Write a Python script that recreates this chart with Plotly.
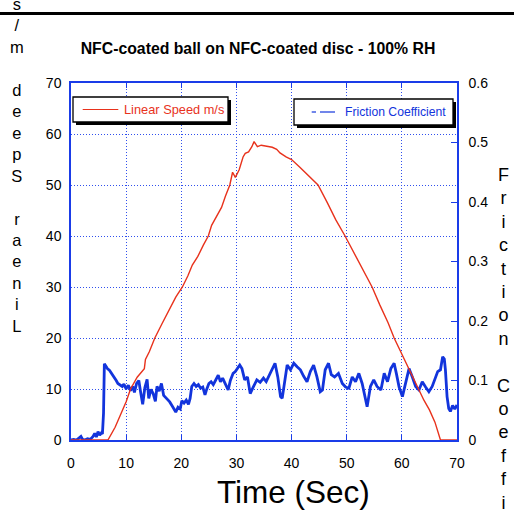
import plotly.graph_objects as go

# ---------------- data ----------------
speed_time = [0, 6.7, 8, 9, 10, 10.8, 12, 13.3, 13.5, 14.2, 15.2, 16.5, 17.8, 19, 20.2, 21.2, 22, 23, 24,
              24.9, 25.5, 26.5, 27.3, 28, 28.8, 29.3, 29.8, 30.5, 31.2, 31.6, 32.2, 32.8, 33.2, 33.8, 34.5,
              35.5, 36.5, 37.3, 37.9, 39, 40, 41.5, 43, 44.8, 46.5, 48, 49.7, 51, 52.5, 54.6, 56, 57.5,
              58.6, 60, 61.3, 63, 64, 65, 66, 67, 70]
speed_ms = [0, 0, 2.5, 5, 7.5, 10, 12.3, 14.0, 15.8, 17.3, 20, 22.8, 25.6, 28.0, 30, 32.2, 34.3, 36.0, 38.2,
            40, 42.1, 44.0, 45.6, 47.8, 50, 52.5, 51.5, 53.0, 55.5, 56.2, 56.5, 57.5, 58.5, 57.5, 57.8,
            57.6, 57.4, 57.0, 56.3, 55.5, 55, 53.5, 52, 50, 46.5, 43.2, 40, 37.3, 34.2, 30, 26.5, 23.0,
            20, 16.8, 13.7, 10, 7.8, 5.9, 3.5, 0, 0]

friction_time = [0, 0.5, 1, 1.5, 1.8, 2.1, 2.5, 3, 3.5, 4, 4.3, 4.6, 4.9, 5.2, 5.5, 5.7, 5.9, 6.05, 6.3, 6.6,
                 7.0, 7.4, 7.8, 8.2, 8.5, 8.9, 9.3, 9.6, 10.0, 10.4, 10.8, 11.2, 11.5, 11.9, 12.3, 12.6,
                 13.0, 13.4, 13.8, 14.1, 14.5, 14.9, 15.3, 15.6, 16.0, 16.4, 16.8, 17.1, 17.5, 17.9, 18.3,
                 18.7, 19.0, 19.4, 19.8, 20.1, 20.5, 20.9, 21.3, 21.6, 21.9, 22.3, 22.7, 23.1, 23.5, 23.9,
                 24.3, 24.6, 25.0, 25.4, 25.8, 26.2, 26.7, 27.1, 27.5, 27.9, 28.5, 28.9, 29.4, 29.8, 30.2,
                 30.6, 31.0, 31.5, 32.0, 32.5, 33.0, 33.7, 34.3, 34.9, 35.4, 35.8, 36.5, 37.0, 37.5, 38.0,
                 38.3, 38.7, 39.2, 39.8, 40.4, 41.0, 41.6, 42.2, 42.8, 43.4, 44.0, 44.6, 45.2, 45.6, 46.1,
                 46.7, 47.2, 47.8, 48.5, 49.2, 49.8, 50.4, 51.0, 51.6, 52.2, 52.8, 53.4, 53.7, 54.3, 54.9,
                 55.5, 56.2, 56.8, 57.4, 58.0, 58.6, 59.0, 59.5, 60.1, 60.7, 61.3, 61.9, 62.5, 63.1, 63.7,
                 64.3, 64.9, 65.5, 66.1, 66.5, 67.0, 67.4, 67.7, 67.9, 68.2, 68.5, 68.8, 69.2, 69.6, 70.0]
friction_coef = [0.0, 0.001, 0.0, 0.004, 0.006, 0.001, 0.0, 0.002, 0.001, 0.006, 0.011, 0.005, 0.014, 0.008,
                 0.012, 0.01, 0.045, 0.128, 0.124, 0.12, 0.117, 0.112, 0.105, 0.1, 0.095, 0.093, 0.09, 0.094,
                 0.086, 0.092, 0.083, 0.09, 0.08, 0.095, 0.1, 0.082, 0.06, 0.088, 0.102, 0.07, 0.085, 0.078,
                 0.065, 0.09, 0.082, 0.095, 0.075, 0.072, 0.068, 0.064, 0.058, 0.05, 0.047, 0.055, 0.052,
                 0.066, 0.062, 0.067, 0.06, 0.07, 0.09, 0.095, 0.09, 0.093, 0.087, 0.089, 0.076, 0.085, 0.095,
                 0.098, 0.093, 0.1, 0.109, 0.098, 0.104, 0.096, 0.084, 0.1, 0.112, 0.115, 0.12, 0.126, 0.12,
                 0.101, 0.106, 0.078, 0.088, 0.101, 0.097, 0.104, 0.098, 0.106, 0.118, 0.129, 0.106, 0.073,
                 0.07, 0.095, 0.126, 0.118, 0.129, 0.123, 0.118, 0.107, 0.098, 0.115, 0.126, 0.106, 0.081,
                 0.084, 0.118, 0.129, 0.11, 0.106, 0.112, 0.095, 0.089, 0.087, 0.106, 0.098, 0.112, 0.095,
                 0.067, 0.056, 0.09, 0.101, 0.09, 0.084, 0.112, 0.098, 0.12, 0.129, 0.112, 0.089, 0.073,
                 0.095, 0.12, 0.106, 0.09, 0.084, 0.098, 0.089, 0.081, 0.09, 0.106, 0.115, 0.118, 0.14, 0.136,
                 0.118, 0.073, 0.053, 0.048, 0.058, 0.052, 0.059]

x_ticks = [0, 10, 20, 30, 40, 50, 60, 70]
speed_ticks = [0, 10, 20, 30, 40, 50, 60, 70]
friction_ticks = [0, 0.1, 0.2, 0.3, 0.4, 0.5, 0.6]
friction_tick_labels = ["0", "0.1", "0.2", "0.3", "0.4", "0.5", "0.6"]

title_text = "NFC-coated ball on NFC-coated disc - 100% RH"
x_title = "Time (Sec)"
speed_label = "Linear Speed m/s"
friction_label = "Friction Coefficient"

# ---------------- style ----------------
RED = "#e8321c"
BLUE = "#1234dc"
FRAME = "#1a3ce8"
GRID = "#3050ee"
FONT = "Liberation Sans, Arial, sans-serif"

W, H = 514, 512
L, R, T, B = 71, 57, 83, 72
pw, ph = W - L - R, H - T - B


def px_x(p):
    return (p - L) / pw


def px_y(p):
    return (H - B - p) / ph


fig = go.Figure()

# friction on primary (right) axis so that the speed line is drawn on top
fig.add_trace(go.Scatter(x=friction_time, y=friction_coef, mode="lines", yaxis="y", name=friction_label,
                         line=dict(color=BLUE, width=2.8), showlegend=False, hoverinfo="skip"))
fig.add_trace(go.Scatter(x=speed_time, y=speed_ms, mode="lines", yaxis="y2", name=speed_label,
                         line=dict(color=RED, width=1.4), showlegend=False, hoverinfo="skip"))

# vertical stacked axis titles (as in the original)
left_txt = "<br>".join(list(speed_label[::-1]))
right_txt = "<br>".join(list(friction_label))


def pline(x0, x1, y, color, width=1.2):
    return dict(type="line", xref="paper", yref="paper", x0=px_x(x0), x1=px_x(x1), y0=px_y(y), y1=px_y(y),
                line=dict(color=color, width=width), layer="above")


def prect(x0, y0, x1, y1, fill, border=0):
    return dict(type="rect", xref="paper", yref="paper", x0=px_x(x0), x1=px_x(x1), y0=px_y(y1), y1=px_y(y0),
                fillcolor=fill, line=dict(color="black", width=border), layer="above")


shapes = [
    pline(0, W, 13.5, "black", 3),
    # legend 1 (speed)
    prect(76, 100, 231, 125, "black"),
    prect(73, 97, 228, 122, "white", 1.3),
    pline(82.7, 118.3, 109.5, RED, 1.2),
    # legend 2 (friction) with dash-dash sample
    prect(297, 102, 456, 128, "black"),
    prect(294, 99, 453, 125, "white", 1.3),
    pline(311.7, 316, 112, BLUE, 1.2),
    pline(320, 335, 112, BLUE, 1.2),
]

annotations = [
    dict(text=left_txt, xref="paper", yref="paper", x=px_x(17), y=px_y(165), xanchor="center",
         yanchor="middle", showarrow=False, font=dict(family=FONT, size=16.5, color="black"), align="center"),
    dict(text=right_txt, xref="paper", yref="paper", x=px_x(503), y=px_y(175 + 9.5 * 23.4),
         xanchor="center", yanchor="middle", showarrow=False,
         font=dict(family=FONT, size=18, color="black"), align="center"),
    dict(text=x_title, xref="paper", yref="paper", x=px_x(293), y=px_y(492), xanchor="center",
         yanchor="middle", showarrow=False, font=dict(family=FONT, size=31.5, color="black")),
    dict(text=speed_label, xref="paper", yref="paper", x=px_x(121.5), y=px_y(109.5), xanchor="left",
         yanchor="middle", showarrow=False, font=dict(family=FONT, size=12.8, color=RED)),
    dict(text=friction_label, xref="paper", yref="paper", x=px_x(343), y=px_y(112), xanchor="left",
         yanchor="middle", showarrow=False, font=dict(family=FONT, size=12.2, color=BLUE)),
]

fig.update_layout(
    width=W, height=H,
    margin=dict(l=L, r=R, t=T, b=B, pad=0),
    paper_bgcolor="white", plot_bgcolor="white",
    font=dict(family=FONT, size=14, color="black"),
    title=dict(text="<b>" + title_text + "</b>", x=px_x(258), xref="paper", xanchor="center",
               y=1 - 48 / H, yref="container", yanchor="middle",
               font=dict(family=FONT, size=15.8, color="black")),
    xaxis=dict(range=[0, 70], tickvals=x_ticks, showgrid=True, griddash="1px,2px", gridcolor=GRID, gridwidth=1.3,
               showline=True, linecolor=FRAME, linewidth=1.5, mirror="ticks", ticks="inside", ticklen=5,
               tickcolor=FRAME, zeroline=False, ticklabelstandoff=9),
    yaxis=dict(range=[0, 0.6], tickvals=friction_ticks, ticktext=friction_tick_labels,
               side="right", showgrid=False, showline=True, linecolor=FRAME, linewidth=1.5,
               ticks="inside", ticklen=6, tickcolor=FRAME, zeroline=False, ticklabelstandoff=7),
    yaxis2=dict(range=[0, 70], tickvals=speed_ticks, overlaying="y", side="left", showgrid=True,
                griddash="1px,2px", gridcolor=GRID, gridwidth=1.3, showline=True, linecolor=FRAME, linewidth=1.5,
                mirror=True, ticks="", zeroline=False, ticklabelstandoff=5),
    shapes=shapes,
    annotations=annotations,
    showlegend=False,
)

fig.write_html("out.html", config={"displayModeBar": False},
               post_script="document.body.style.margin='0px';")
